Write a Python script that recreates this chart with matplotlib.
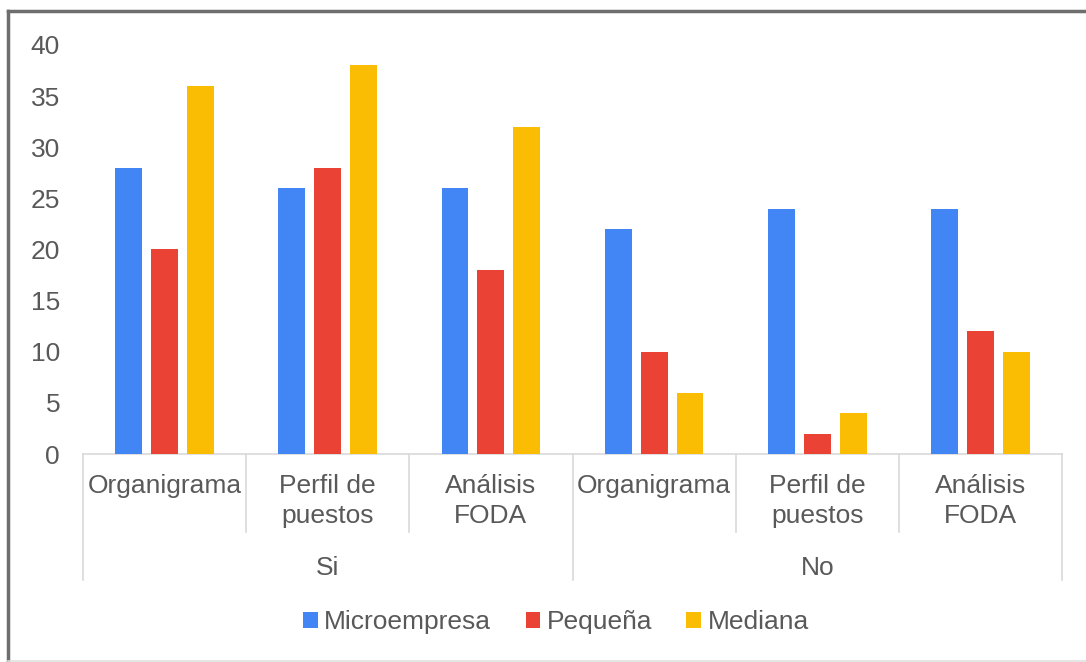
import numpy as np
import matplotlib
matplotlib.use("Agg")
import matplotlib.pyplot as plt
from matplotlib.lines import Line2D
from matplotlib.patches import Patch
from matplotlib.transforms import blended_transform_factory

# ---- data ----
groups = ["Si", "No"]
categories = ["Organigrama", "Perfil de\npuestos", "Análisis\nFODA",
              "Organigrama", "Perfil de\npuestos", "Análisis\nFODA"]
series_names = ["Microempresa", "Pequeña", "Mediana"]
microempresa = [28, 26, 26, 22, 24, 24]
pequena = [20, 28, 18, 10, 2, 12]
mediana = [36, 38, 32, 6, 4, 10]
yticks = [0, 5, 10, 15, 20, 25, 30, 35, 40]

colors = ["#4285F4", "#EA4335", "#FBBC04"]
text_color = "#595959"
line_color = "#d9d9d9"

plt.rcParams['font.family'] = ['Liberation Sans', 'DejaVu Sans']
FS = 19

W, H = 1086, 662
fig = plt.figure(figsize=(W / 100, H / 100), dpi=100)

def fy(py):
    return 1 - py / H

def fx(px):
    return px / W

ax_left, ax_right, ax_top, ax_bottom = 83, 1062, 45, 454
ax = fig.add_axes([fx(ax_left), fy(ax_bottom), fx(ax_right - ax_left), (ax_bottom - ax_top) / H])

n = len(categories)
x = np.arange(n) + 0.5
offsets = [-0.22, 0.0, 0.22]
width = 0.165
for vals, off, col, name in zip([microempresa, pequena, mediana], offsets, colors, series_names):
    ax.bar(x + off, vals, width=width, color=col, label=name, zorder=3)

ax.set_xlim(0, n)
ax.set_ylim(0, 40)
ax.set_yticks(yticks)
ax.set_yticklabels([str(v) for v in yticks], fontsize=FS, color=text_color)
ax.tick_params(axis='y', length=0, pad=16.5)
ax.set_xticks([])
for s in ["top", "right", "left"]:
    ax.spines[s].set_visible(False)
ax.spines["bottom"].set_color(line_color)
ax.spines["bottom"].set_linewidth(1.2)

trans = blended_transform_factory(ax.transData, fig.transFigure)

# category labels
for xi, lab in zip(x, categories):
    for i, line in enumerate(lab.split("\n")):
        fig.text(xi, fy(486 + 30 * i), line, transform=trans, ha='center', va='center',
                 fontsize=FS, color=text_color)

# separators
for b in range(n + 1):
    outer = (b % 3 == 0)
    yend = 580 if outer else 532
    fig.add_artist(Line2D([b, b], [fy(ax_bottom), fy(yend)], transform=trans,
                          color=line_color, lw=1.2))

# group labels
for gi, g in enumerate(groups):
    fig.text(gi * 3 + 1.5, fy(568), g, transform=trans, ha='center', va='center',
             fontsize=FS, color=text_color)

# legend
handles = [Patch(facecolor=c, edgecolor='none', label=nm) for c, nm in zip(colors, series_names)]
leg = fig.legend(handles=handles, loc='center', bbox_to_anchor=(fx(556), fy(622)),
                 ncol=3, frameon=False, fontsize=FS, handlelength=0.55, handleheight=0.55,
                 handletextpad=0.25, columnspacing=1.3, borderaxespad=0)
for t in leg.get_texts():
    t.set_color(text_color)

# border
fig.add_artist(Line2D([fx(8), fx(8)], [fy(11), fy(662)], transform=fig.transFigure,
                      color="#6e6e6e", lw=2.5))
fig.add_artist(Line2D([fx(8), 1], [fy(11), fy(11)], transform=fig.transFigure,
                      color="#6e6e6e", lw=2.5))
fig.add_artist(Line2D([fx(8), 1], [fy(660.5), fy(660.5)], transform=fig.transFigure,
                      color="#e0e0e0", lw=1.2))

fig.savefig("out.png", dpi=100)
